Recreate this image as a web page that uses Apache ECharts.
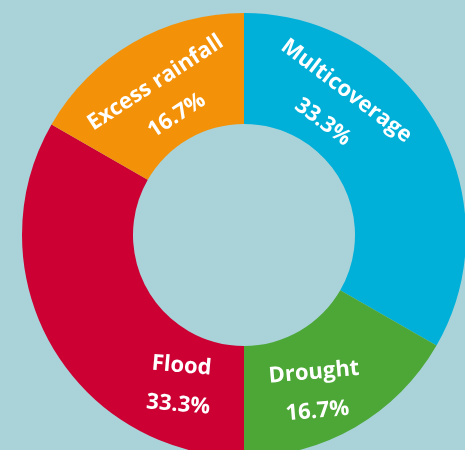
<!DOCTYPE html>
<html>
<head>
<meta charset="utf-8">
<script src="https://cdn.jsdelivr.net/npm/echarts@6/dist/echarts.min.js"></script>
<style>
html,body{margin:0;padding:0;background:#a9d2d9;}
#main{width:465px;height:450px;}
</style>
</head>
<body>
<div id="main"></div>
<script>
const categories = ['Multicoverage', 'Drought', 'Flood', 'Excess rainfall'];
const values = [33.3, 16.7, 33.3, 16.7];
const colors = ['#00b0d9', '#4ca736', '#cc0033', '#f39208'];
const labelRotate = [-37, 5, -5, 33];
const labelShift = [[-71, -1], [-14, 9], [88, 58], [0, 13]];

const chart = echarts.init(document.getElementById('main'), null, {renderer: 'canvas'});
const data = categories.map((name, i) => ({
  name: name,
  value: values[i],
  itemStyle: {color: colors[i]},
  label: {rotate: labelRotate[i]}
}));
chart.setOption({
  backgroundColor: '#a9d2d9',
  animation: false,
  series: [{
    type: 'pie',
    center: [244, 235],
    radius: [111, 222],
    startAngle: 90,
    clockwise: true,
    percentPrecision: 1,
    avoidLabelOverlap: false,
    itemStyle: {borderWidth: 0},
    label: {
      show: true,
      position: 'inside',
      formatter: '{b}\n{d}%',
      color: '#ffffff',
      fontFamily: 'Open Sans',
      fontWeight: 'bold',
      fontSize: 22,
      lineHeight: 39,
      align: 'center'
    },
    labelLine: {show: false},
    labelLayout: function (params) {
      const s = labelShift[params.dataIndex];
      return {dx: s[0], dy: s[1]};
    },
    data: data
  }]
});
</script>
</body>
</html>
